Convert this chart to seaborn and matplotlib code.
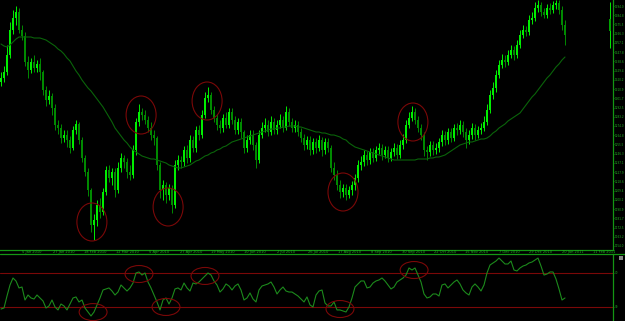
import numpy as np
import pandas as pd
import matplotlib
matplotlib.use("Agg")
import matplotlib.pyplot as plt
import matplotlib.transforms as mtransforms
from matplotlib.patches import Ellipse, Rectangle
import seaborn as sns

# ---------------- data ----------------
open_ = [1318,1322,1328,1345,1370,1382,1388,1370,1364,1338,
         1330,1338,1332,1336,1328,1310,1300,1304,1292,1275,
         1272,1262,1265,1260,1252,1270,1276,1260,1242,1228,
         1210,1175,1180,1195,1188,1208,1230,1222,1228,1210,
         1232,1242,1238,1228,1225,1250,1278,1288,1285,1280,
         1272,1265,1262,1235,1210,1215,1205,1212,1195,1235,
         1240,1238,1250,1242,1260,1252,1270,1265,1285,1302,
         1305,1290,1282,1275,1272,1282,1275,1288,1280,1270,
         1278,1268,1252,1260,1265,1255,1240,1265,1272,1275,
         1268,1278,1270,1275,1280,1272,1288,1278,1272,1275,
         1268,1262,1255,1260,1250,1258,1252,1260,1250,1258,
         1252,1232,1225,1215,1208,1212,1205,1210,1215,1222,
         1235,1238,1245,1240,1248,1242,1250,1252,1245,1250,
         1242,1248,1252,1245,1255,1260,1275,1282,1288,1280,
         1272,1265,1250,1248,1255,1250,1252,1258,1265,1260,
         1268,1262,1272,1270,1275,1268,1260,1265,1272,1265,
         1270,1272,1278,1290,1305,1312,1325,1335,1340,1338,
         1345,1350,1345,1355,1365,1370,1368,1380,1382,1392,
         1395,1388,1385,1392,1390,1395,1397,1390,1375]
close = [1322,1328,1345,1370,1382,1388,1370,1364,1338,1330,
         1338,1332,1336,1328,1310,1300,1304,1292,1275,1272,
         1262,1265,1260,1252,1270,1276,1260,1242,1228,1210,
         1175,1180,1195,1188,1208,1230,1222,1228,1210,1232,
         1242,1238,1228,1225,1250,1278,1288,1285,1280,1272,
         1265,1262,1235,1210,1215,1205,1212,1195,1235,1240,
         1238,1250,1242,1260,1252,1270,1265,1285,1302,1305,
         1290,1282,1275,1272,1282,1275,1288,1280,1270,1278,
         1268,1252,1260,1265,1255,1240,1265,1272,1275,1268,
         1278,1270,1275,1280,1272,1288,1278,1272,1275,1268,
         1262,1255,1260,1250,1258,1252,1260,1250,1258,1252,
         1232,1225,1215,1208,1212,1205,1210,1215,1222,1235,
         1238,1245,1240,1248,1242,1250,1252,1245,1250,1242,
         1248,1252,1245,1255,1260,1275,1282,1288,1280,1272,
         1265,1250,1248,1255,1250,1252,1258,1265,1260,1268,
         1262,1272,1270,1275,1268,1260,1265,1272,1265,1270,
         1272,1278,1290,1305,1312,1325,1335,1340,1338,1345,
         1350,1345,1355,1365,1370,1368,1380,1382,1392,1395,
         1388,1385,1392,1390,1395,1397,1390,1375,1365]
high = [1328,1334,1355,1378,1390,1394,1392,1375,1368,1344,
        1342,1345,1340,1342,1330,1314,1310,1307,1296,1280,
        1276,1270,1270,1264,1274,1280,1278,1263,1245,1232,
        1212,1186,1200,1202,1212,1234,1235,1232,1232,1238,
        1247,1245,1242,1235,1255,1282,1296,1292,1290,1284,
        1278,1270,1264,1238,1220,1218,1216,1215,1240,1245,
        1244,1254,1255,1265,1264,1274,1275,1290,1308,1313,
        1308,1294,1286,1280,1286,1288,1292,1292,1284,1282,
        1282,1270,1265,1270,1270,1258,1270,1278,1282,1280,
        1284,1282,1280,1286,1284,1294,1292,1282,1280,1279,
        1272,1266,1264,1264,1262,1262,1265,1263,1262,1262,
        1255,1238,1230,1220,1216,1216,1214,1219,1226,1240,
        1244,1250,1249,1252,1252,1254,1257,1256,1254,1254,
        1252,1257,1256,1260,1266,1280,1288,1294,1292,1284,
        1276,1268,1254,1259,1259,1257,1262,1270,1269,1272,
        1272,1276,1277,1280,1279,1272,1270,1277,1276,1274,
        1277,1284,1296,1310,1318,1330,1340,1346,1345,1350,
        1355,1354,1360,1370,1375,1374,1385,1388,1398,1400,
        1398,1392,1396,1397,1399,1400,1400,1394,1380]
low = [1314,1318,1325,1342,1366,1375,1367,1360,1334,1322,
       1327,1328,1328,1320,1305,1294,1296,1285,1270,1266,
       1257,1258,1253,1247,1250,1266,1256,1238,1224,1204,
       1168,1160,1174,1182,1185,1205,1218,1215,1203,1207,
       1228,1232,1222,1220,1222,1245,1274,1280,1276,1268,
       1260,1255,1230,1202,1200,1197,1200,1187,1192,1230,
       1232,1234,1237,1238,1248,1248,1260,1262,1282,1298,
       1286,1278,1270,1267,1268,1272,1272,1276,1266,1266,
       1262,1247,1248,1256,1250,1232,1237,1262,1268,1264,
       1265,1266,1266,1272,1268,1270,1274,1268,1268,1264,
       1258,1250,1251,1245,1246,1247,1249,1244,1246,1248,
       1228,1220,1210,1202,1203,1200,1202,1205,1210,1218,
       1230,1234,1235,1236,1238,1239,1246,1240,1242,1238,
       1239,1244,1241,1242,1251,1257,1272,1279,1276,1268,
       1260,1244,1240,1244,1245,1246,1248,1254,1255,1256,
       1258,1259,1265,1266,1263,1252,1256,1261,1260,1262,
       1266,1269,1275,1287,1301,1308,1322,1332,1333,1335,
       1342,1340,1342,1352,1362,1364,1365,1376,1379,1388,
       1384,1382,1382,1386,1387,1391,1386,1370,1355]
moving_avg = [1356,1354,1353,1355,1358,1361,1363,1363,1363,1363,
              1363,1362,1362,1362,1361,1360,1358,1356,1354,1351,
              1349,1346,1342,1339,1334,1329,1325,1320,1316,1312,
              1309,1305,1301,1297,1293,1288,1283,1278,1272,1268,
              1264,1260,1257,1253,1250,1248,1246,1244,1243,1242,
              1241,1241,1240,1239,1238,1237,1235,1234,1233,1232,
              1232,1233,1234,1235,1237,1239,1240,1242,1244,1245,
              1247,1248,1250,1251,1253,1254,1256,1258,1259,1260,
              1261,1262,1263,1264,1265,1266,1267,1268,1269,1270,
              1271,1271,1272,1272,1273,1273,1274,1274,1274,1273,
              1273,1272,1271,1270,1269,1268,1268,1267,1267,1266,
              1265,1265,1264,1263,1261,1260,1257,1255,1253,1252,
              1251,1250,1249,1248,1247,1246,1245,1244,1243,1242,
              1241,1240,1240,1240,1240,1240,1240,1240,1240,1241,
              1241,1241,1241,1242,1242,1243,1243,1244,1245,1247,
              1249,1251,1253,1255,1256,1257,1258,1258,1259,1260,
              1261,1261,1262,1264,1267,1269,1272,1274,1276,1279,
              1281,1283,1285,1287,1291,1295,1299,1303,1306,1310,
              1314,1318,1322,1325,1329,1333,1336,1340,1343]
rsi = [27.6,28.8,42.9,55.9,64.1,60.6,52.4,53.5,38.2,44.1,
       40.6,39.4,44.1,40.6,37.1,28.8,31.2,38.2,30.0,26.5,
       33.5,31.2,26.5,33.5,40.6,41.8,35.9,38.2,28.8,24.1,
       19.4,24.1,32.4,40.6,50.0,51.2,52.4,48.8,44.1,47.6,
       55.9,52.4,48.8,52.4,58.2,70.0,71.2,67.6,70.0,59.4,
       52.4,44.1,35.9,26.5,38.2,40.6,33.5,40.6,51.2,52.4,
       50.0,58.2,52.4,48.8,58.2,57.1,59.4,62.9,66.5,70.0,
       67.6,60.6,55.9,47.6,51.2,57.1,54.7,50.0,54.7,57.1,
       50.0,38.2,40.6,46.5,39.4,35.9,50.0,54.7,55.9,57.1,
       59.4,53.5,45.3,50.0,53.5,48.8,47.6,47.6,45.3,42.9,
       39.4,35.9,41.8,32.4,30.0,44.1,48.8,50.0,34.7,31.2,
       31.2,35.9,26.5,26.5,25.3,24.1,30.0,40.6,53.5,57.1,
       60.6,60.6,52.4,53.5,58.2,60.6,61.8,64.1,60.6,55.9,
       51.2,53.5,59.4,61.8,64.1,67.6,75.9,73.5,75.9,67.6,
       59.4,45.3,40.6,41.8,45.3,45.3,42.9,55.9,57.1,52.4,
       55.9,59.4,61.8,57.1,50.0,46.5,44.1,53.5,57.1,53.5,
       48.8,55.9,70.0,79.4,81.8,84.1,87.6,84.1,80.6,80.6,
       84.1,73.5,72.4,75.9,78.2,79.4,81.8,82.9,85.3,87.6,
       78.2,67.6,68.8,71.2,71.2,62.9,51.2,38.2,40.6]
date_labels = ["5 Jan 2010", "27 Jan 2010", "18 Feb 2010", "12 Mar 2010",
               "5 Apr 2010", "27 Apr 2010", "19 May 2010", "10 Jun 2010",
               "2 Jul 2010", "26 Jul 2010", "17 Aug 2010", "8 Sep 2010",
               "30 Sep 2010", "22 Oct 2010", "15 Nov 2010", "7 Dec 2010",
               "29 Dec 2010", "20 Jan 2011", "11 Feb 2011"]
rsi_levels = [70, 30]
# swing points circled by hand on the chart (bar index, value)
price_circle_bar = [30.3, 46.7, 55.7, 68.7, 114.0, 137.3]
price_circle_val = [1178, 1285, 1193, 1299, 1208, 1278]
rsi_circle_bar = [30.7, 46.0, 55.0, 68.0, 113.0, 137.7]
rsi_circle_val = [24.0, 68.8, 30.0, 66.5, 27.6, 73.5]

# ---------------- style ----------------
sns.set_theme(style="dark", rc={"axes.facecolor": "black", "figure.facecolor": "black",
                                "savefig.facecolor": "black"})
plt.rcParams["font.family"] = ["DejaVu Sans"]

BG = "black"
UP = "#00ee00"
DOWN = "#008a00"
AXIS = "#149614"
LABEL = "#22b022"
MA_C = "#0a640a"
RSI_C = "#1c8a1c"
RED = "#7a0808"

W, H = 625, 321
fig = plt.figure(figsize=(W / 100, H / 100), dpi=100)
ax = fig.add_axes([0, (H - 250) / H, 613 / W, 250 / H])
ax2 = fig.add_axes([0, 0, 613 / W, 67 / H])

df = pd.DataFrame({"bar": np.arange(len(close)), "open": open_, "high": high,
                   "low": low, "close": close, "ma": moving_avg, "rsi": rsi})
is_up = df["close"] >= df["open"]
cols = np.where(is_up, UP, DOWN)

# candles
ax.vlines(df["bar"], df["low"], df["high"], colors=cols, linewidth=0.7, zorder=2)
ax.bar(df["bar"], df["close"] - df["open"], bottom=df["open"], width=0.62,
       color=cols, linewidth=0, zorder=3)
# moving average
sns.lineplot(data=df, x="bar", y="ma", ax=ax, color=MA_C, linewidth=0.8, zorder=4)

for bx, pv in zip(price_circle_bar, price_circle_val):
    ax.add_patch(Ellipse((bx, pv), width=10.0, height=38, fill=False,
                         edgecolor=RED, linewidth=0.8, zorder=5))

ax.set_xlim(-1 / 3, 204)
ax.set_ylim(1150, 1400)

# right price scale (MT4-like positions)
price_ticks = 1394 - 9.23 * np.arange(27)
ax.yaxis.tick_right()
ax.set_yticks(price_ticks)
ax.set_yticklabels([f"{p:.1f}" for p in price_ticks])
ax.tick_params(axis="y", colors=AXIS, labelcolor=LABEL, labelsize=2.0, length=1.0,
               width=0.5, pad=0.6)
ax.set_xticks([])
ax.set_xlabel("")
ax.set_ylabel("")
ax.grid(False)
for s in ["left", "top"]:
    ax.spines[s].set_visible(False)
for s in ["right", "bottom"]:
    ax.spines[s].set_visible(True)
    ax.spines[s].set_color(AXIS)
    ax.spines[s].set_linewidth(0.9)

# current-bar marker on the right edge
trans = mtransforms.blended_transform_factory(ax.transAxes, ax.transData)
ax.vlines([610 / 613], 1352, 1398, colors=UP, linewidth=0.7, transform=trans, zorder=6)
ax.add_patch(Rectangle((608.5 / 613, 1369), 2.5 / 613, 12, transform=trans,
                       facecolor="#00a000", edgecolor="none", zorder=6))

# RSI panel
sns.lineplot(data=df, x="bar", y="rsi", ax=ax2, color=RSI_C, linewidth=0.8, zorder=4)
for lv in rsi_levels:
    ax2.axhline(lv, color=RED, linewidth=0.8, zorder=2)
for bx, rv in zip(rsi_circle_bar, rsi_circle_val):
    ax2.add_patch(Ellipse((bx, rv), width=9.3, height=20, fill=False,
                          edgecolor=RED, linewidth=0.8, zorder=5))
ax2.set_xlim(-1 / 3, 204)
ax2.set_ylim(13.5, 92.35)
ax2.yaxis.tick_right()
ax2.set_yticks(rsi_levels)
ax2.set_yticklabels([str(v) for v in rsi_levels])
ax2.tick_params(axis="y", colors=AXIS, labelcolor=LABEL, labelsize=2.0, length=1.0,
                width=0.5, pad=0.6)
ax2.set_xticks([])
ax2.set_xlabel("")
ax2.set_ylabel("")
ax2.grid(False)
for s in ["left", "bottom"]:
    ax2.spines[s].set_visible(False)
ax2.spines["right"].set_color(AXIS)
ax2.spines["right"].set_linewidth(0.9)
ax2.spines["top"].set_visible(False)

# separator line under the date strip (full width)
fig.add_artist(plt.Line2D([0, 1], [(H - 254) / H] * 2, color=AXIS, linewidth=0.9,
                          transform=fig.transFigure))

# date labels in the strip between the panels
date_bar = 10.3 + 10.6 * np.arange(len(date_labels))
for bx, lab in zip(date_bar, date_labels):
    xpx = 3 * bx + 1
    fig.text(xpx / W, (H - 252) / H, lab, color=LABEL, fontsize=2.6,
             ha="center", va="center")

# small window icon in the RSI panel corner
fig.add_artist(Rectangle((619 / W, (H - 260) / H), 4 / W, 4 / H, transform=fig.transFigure,
                         facecolor="#8a8a8a", edgecolor="none"))

fig.savefig("out.png", dpi=100, facecolor=BG)
